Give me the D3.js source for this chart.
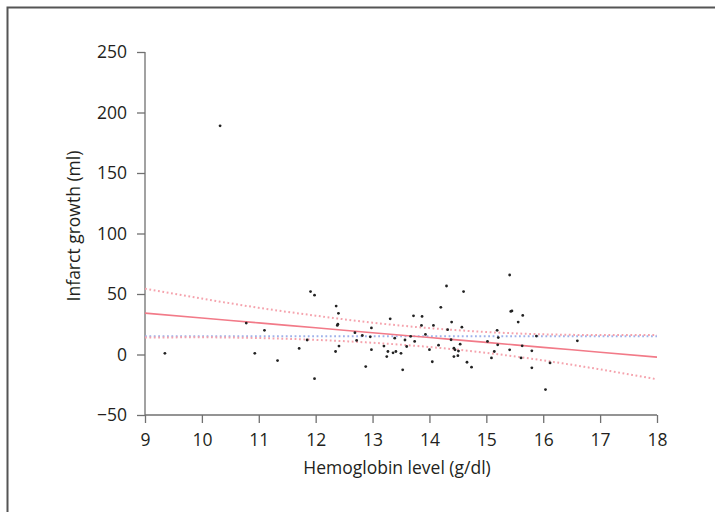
<!DOCTYPE html>
<html>
<head>
<meta charset="utf-8">
<script src="https://cdn.jsdelivr.net/npm/d3@7"></script>
<style>
  body { margin: 0; background: #fff; }
  svg { display: block; font-family: "Open Sans", "Noto Sans", sans-serif; }
  .axis path, .axis line { stroke: #707070; stroke-width: 1.3; }
  .axis text { font-size: 17.5px; fill: #231f20; }
</style>
</head>
<body>
<svg id="chart" width="715" height="512"></svg>
<script>
// Hemoglobin level (g/dl) for each patient
const hb = [
  9.35, 10.32, 10.78, 10.93, 11.1, 11.33, 11.71, 11.85, 11.91, 11.98,
  11.98, 12.36, 12.40, 12.39, 12.38, 12.41, 12.35, 12.69, 12.72, 12.88,
  12.82, 12.98, 12.96, 12.98, 13.31, 13.2, 13.27, 13.25, 13.36, 13.41,
  13.5, 13.39, 13.57, 13.6, 13.67, 13.53, 13.72, 13.74, 13.87, 13.86,
  13.93, 14.0, 14.07, 14.05, 14.2, 14.16, 14.3, 14.32, 14.39, 14.38,
  14.43, 14.45, 14.43, 14.51, 14.5, 14.54, 14.57, 14.6, 14.66, 14.74,
  15.02, 15.19, 15.21, 15.2, 15.14, 15.09, 15.41, 15.43, 15.45, 15.64,
  15.56, 15.41, 15.63, 15.61, 15.8, 15.8, 15.88, 16.12, 16.04, 16.6
];
// Infarct growth (ml), same order
const growth = [
  1, 189, 26, 1, 20, -5, 5, 12, 52, 49,
  -20, 40, 34, 25, 24, 7, 2.5, 18, 11.6, -10,
  15.7, 22, 14.6, 4, 29.5, 7, 2.5, -1.7, 1.4, 2.5,
  1, 13.5, 12, 6.6, 15, -12.7, 32, 10.8, 31.5, 24,
  16.6, 4, 24, -6, 39, 7.7, 56.6, 20.5, 26.8, 12.2,
  5.2, 3.9, -1.7, 2.8, -1, 8.5, 22.6, 52, -6.4, -10.5,
  10.8, 20, 14, 8, 2.5, -2.8, 65.7, 35.6, 36, 32.3,
  26.8, 3.9, 7.2, -2.8, 3, -11, 15.2, -7, -29, 11.3
];

// regression line and its confidence band, read at whole g/dl
const bandX = [9, 10, 11, 12, 13, 14, 15, 16, 17, 18];
const fitY = [34.2, 30.2, 26.1, 22.1, 18.0, 14.0, 10.0, 5.9, 1.9, -2.2];
const upperY = [54.4, 46.2, 38.6, 32.1, 26.3, 21.8, 18.6, 16.7, 16.1, 16.1];
const lowerY = [14.0, 14.2, 13.6, 12.1, 9.7, 6.2, 1.4, -4.9, -12.3, -20.5];
// flat reference line (blue dotted)
const refX = [9, 18];
const refY = [15, 15];

const xTicks = [9, 10, 11, 12, 13, 14, 15, 16, 17, 18];
const yTicks = [-50, 0, 50, 100, 150, 200, 250];

const svg = d3.select('#chart');

// frame round the figure (top and left edges only)
svg.append('path')
  .attr('d', 'M7.5,512V7.5H715')
  .attr('fill', 'none')
  .attr('stroke', '#555')
  .attr('stroke-width', 2);

const x = d3.scaleLinear().domain([9, 18]).range([145, 657]);
const y = d3.scaleLinear().domain([-50, 250]).range([415, 52]);

// axes
svg.append('g')
  .attr('class', 'axis')
  .attr('transform', 'translate(0,415)')
  .call(d3.axisBottom(x).tickValues(xTicks).tickSize(8).tickSizeOuter(0).tickPadding(11).tickFormat(d3.format('d')))
  .call(g => g.select('.domain').attr('d', 'M145,0H657'));

svg.append('g')
  .attr('class', 'axis')
  .attr('transform', 'translate(145,0)')
  .call(d3.axisLeft(y).tickValues(yTicks).tickSize(8).tickSizeOuter(0).tickPadding(10)
    .tickFormat(d => d < 0 ? '\u2212' + Math.abs(d) : d))
  .call(g => g.select('.domain').attr('d', 'M0,52V415'));

svg.selectAll('.axis').attr('font-family', null).attr('font-size', null);

// axis titles
svg.append('text')
  .attr('x', 397).attr('y', 474)
  .attr('text-anchor', 'middle')
  .attr('font-size', 17.5)
  .attr('fill', '#231f20')
  .text('Hemoglobin level (g/dl)');

svg.append('text')
  .attr('transform', 'translate(80,226) rotate(-90)')
  .attr('text-anchor', 'middle')
  .attr('font-size', 17.5)
  .attr('fill', '#231f20')
  .text('Infarct growth (ml)');

const line = d3.line()
  .x(d => x(d[0]))
  .y(d => y(d[1]))
  .curve(d3.curveMonotoneX);

// blue reference line
svg.append('path')
  .datum(d3.zip(refX, refY))
  .attr('d', line)
  .attr('fill', 'none')
  .attr('stroke', '#9fb2ea')
  .attr('stroke-width', 2)
  .attr('stroke-dasharray', '1.8,2.6');

// confidence band edges
[upperY, lowerY].forEach(vals => {
  svg.append('path')
    .datum(d3.zip(bandX, vals))
    .attr('d', line)
    .attr('fill', 'none')
    .attr('stroke', '#f5a3ad')
    .attr('stroke-width', 2)
    .attr('stroke-dasharray', '1.8,2.6');
});

// fitted line
svg.append('path')
  .datum(d3.zip(bandX, fitY))
  .attr('d', line)
  .attr('fill', 'none')
  .attr('stroke', '#f27a88')
  .attr('stroke-width', 1.6);

// patients
svg.append('g')
  .selectAll('circle')
  .data(d3.zip(hb, growth))
  .join('circle')
  .attr('cx', d => x(d[0]))
  .attr('cy', d => y(d[1]))
  .attr('r', 1.4)
  .attr('fill', '#222');
</script>
</body>
</html>
